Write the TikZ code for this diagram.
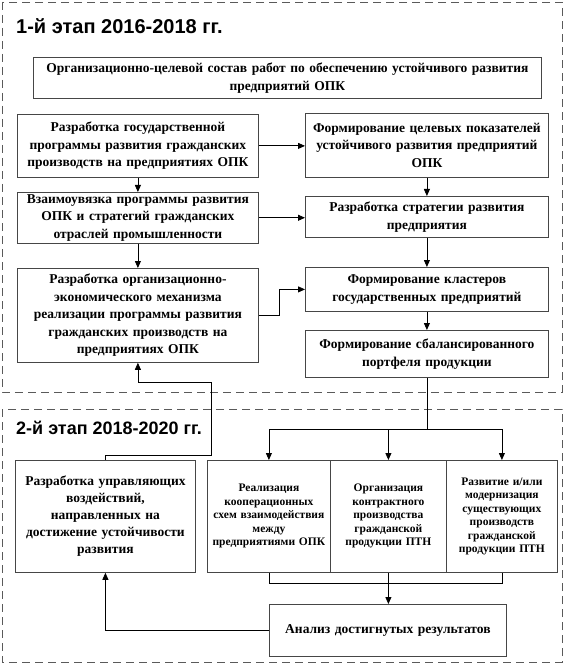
\documentclass[tikz,border=0pt]{standalone}
\usepackage{fontspec}
\setmainfont{Liberation Serif}
\newfontfamily\titlefont{Liberation Sans}
\usetikzlibrary{arrows.meta,positioning,calc}
\definecolor{boxgray}{RGB}{70,70,70}
\definecolor{dashgray}{RGB}{90,90,90}
\tikzset{
  stagebox/.style={draw=dashgray, thick, dash pattern=on 8pt off 5pt},
  stagetitle/.style={anchor=west, font=\titlefont\bfseries\fontsize{20}{22}\selectfont, inner sep=0pt},
  workbox/.style={draw=boxgray, line width=0.8pt, fill=white, anchor=north west, align=center, inner sep=2pt,
    font=\bfseries\fontsize{13.5}{17.5}\selectfont},
  smallbox/.style={workbox, font=\bfseries\fontsize{11.5}{13.5}\selectfont},
  arr/.style={-{Triangle[length=7pt,width=6pt]}, line width=0.8pt},
  ln/.style={line width=0.8pt},
}
\begin{document}
\begin{tikzpicture}[x=1pt,y=-1pt]
  \useasboundingbox (0,0) rectangle (568,668);
  % stage frames
  \draw[stagebox] (2,2) rectangle (562,392);
  \draw[stagebox] (2,409) rectangle (562,662);
  \node[stagetitle] (t1) at (16,26) {1-й этап 2016-2018 гг.};
  \node[stagetitle, font=\titlefont\bfseries\fontsize{18}{20}\selectfont] (t2) at (16,428) {2-й этап 2018-2020 гг.};

  % stage 1
  \node[workbox, minimum width=508pt, minimum height=41pt, text width=502pt] (goal) at (33,57)
    {Организационно-целевой состав работ по обеспечению устойчивого развития\\ предприятий ОПК};
  \node[workbox, minimum width=241pt, minimum height=63pt, text width=237pt] (l1) at (17,114)
    {Разработка государственной\\ программы развития гражданских\\ производств на предприятиях ОПК};
  \node[workbox, minimum width=241pt, minimum height=46pt, text width=237pt] (l2) at (17,192)
    {Взаимоувязка программы развития\\ ОПК и стратегий гражданских\\ отраслей промышленности};
  \node[workbox, minimum width=241pt, minimum height=94pt, text width=237pt] (l3) at (17,268)
    {Разработка организационно-\\ экономического механизма\\ реализации программы развития\\ гражданских производств на\\ предприятиях ОПК};
  \node[workbox, minimum width=243pt, minimum height=64pt, text width=239pt] (r1) at (305,113)
    {Формирование целевых показателей\\ устойчивого развития предприятий\\ ОПК};
  \node[workbox, minimum width=243pt, minimum height=41pt, text width=239pt] (r2) at (305,196)
    {Разработка стратегии развития\\ предприятия};
  \node[workbox, minimum width=243pt, minimum height=44pt, text width=239pt] (r3) at (305,267)
    {Формирование кластеров\\ государственных предприятий};
  \node[workbox, minimum width=243pt, minimum height=47pt, text width=239pt] (r4) at (305,330)
    {Формирование сбалансированного\\ портфеля продукции};

  \draw[arr] (l1) -- (l1 -| r1.west);
  \draw[arr] (l2) -- (l2 -| r2.west);
  \draw[arr] (l1) -- (l2);
  \draw[arr] (l2) -- (l3);
  \draw[arr] (r1) -- (r2);
  \draw[arr] (r2) -- (r3);
  \draw[arr] (r3) -- (r4);
  \draw[arr] (l3.east) -- ++(21,0) |- (r3.west);

  % stage 2
  \node[workbox, font=\bfseries\fontsize{13.5}{17}\selectfont, minimum width=180pt, minimum height=112pt, text width=176pt] (ctrl) at (15,460)
    {Разработка управляющих\\ воздействий,\\ направленных на\\ достижение устойчивости\\ развития};
  \node[smallbox, minimum width=123pt, minimum height=112pt, text width=119pt] (b1) at (207,460)
    {Реализация\\ кооперационных\\ схем взаимодействия\\ между\\ предприятиями ОПК};
  \node[smallbox, minimum width=116pt, minimum height=112pt, text width=112pt] (b2) at (330,460)
    {Организация\\ контрактного\\ производства\\ гражданской\\ продукции ПТН};
  \node[smallbox, minimum width=111pt, minimum height=112pt, text width=107pt] (b3) at (446,460)
    {Развитие и/или\\ модернизация\\ существующих\\ производств\\ гражданской\\ продукции ПТН};
  \node[workbox, minimum width=237pt, minimum height=52pt, text width=233pt] (res) at (269,604)
    {Анализ достигнутых результатов};

  \coordinate (split) at ($(r4.south)+(0,52)$);
  \coordinate (merge) at ($(b2.south)+(0,11)$);
  \coordinate (bend) at (211,382);
  \draw[ln] (r4.south) -- (split);
  \draw[arr] (split) -| (b1.north);
  \draw[arr] (split) -| (b3.north);
  \draw[arr] (b2.north |- split) -- (b2.north);
  \draw[ln] (b1.south) |- (merge) -| (b3.south);
  \draw[ln] (b2.south) -- (merge);
  \draw[arr] (merge) -- (merge |- res.north);
  \draw[arr] (res.west) -| (ctrl.south);
  \draw[arr] (ctrl.north) -- ++(0,-5) -| (bend) -| (l3.south);
\end{tikzpicture}
\end{document}
